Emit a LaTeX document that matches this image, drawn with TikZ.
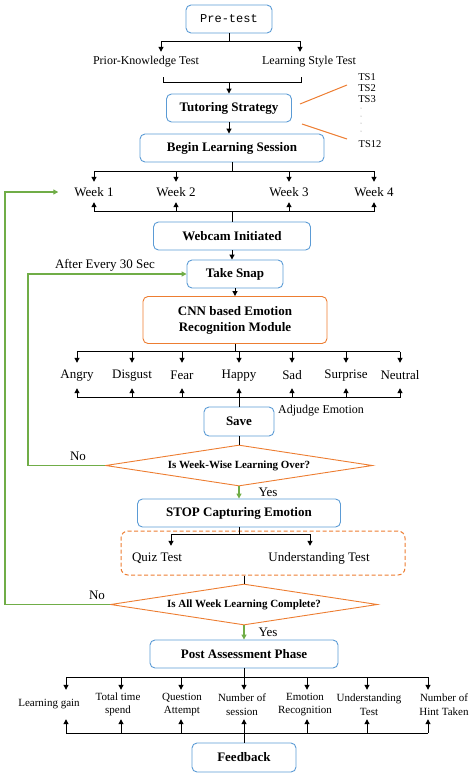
\documentclass[tikz,border=0pt]{standalone}
\usepackage{fontspec}
\setmainfont{Liberation Serif}
\setmonofont{Liberation Mono}
\usetikzlibrary{arrows.meta,shapes.geometric,calc}

\definecolor{boxblue}{RGB}{91,155,213}
\definecolor{flowor}{RGB}{237,125,49}
\definecolor{loopgreen}{RGB}{112,173,71}

\tikzset{
  box/.style={draw=boxblue, line width=0.9pt, rounded corners=5pt, align=center,
    inner sep=0pt, minimum height=28, font=\fontsize{13}{16}\selectfont\bfseries},
  cnnbox/.style={box, draw=flowor},
  decide/.style={diamond, draw=flowor, line width=0.9pt, inner sep=0pt, aspect=6.5,
    minimum width=267, minimum height=41, font=\fontsize{11}{13}\selectfont\bfseries},
  lbl/.style={inner sep=0pt, font=\fontsize{13}{15}\selectfont},
  small/.style={inner sep=0pt, align=center, minimum height=29,
    font=\fontsize{11}{13.5}\selectfont},
  line/.style={line width=1pt},
  arr/.style={line, -{Triangle[length=5pt,width=5pt]}},
  garr/.style={arr, draw=loopgreen, line width=1.2pt},
  tsline/.style={draw=flowor, line width=1pt}
}

\begin{document}
\begin{tikzpicture}[x=1pt,y=-1pt]
  \useasboundingbox (0,0) rectangle (474,777);

  % pre-test part
  \node[box, minimum width=86, font=\fontsize{12}{14}\selectfont\ttfamily] (pre) at (229,19) {Pre-test};
  \node[lbl, minimum height=20, font=\fontsize{12}{14}\selectfont] (pk) at (146,62) {Prior-Knowledge Test};
  \node[lbl, minimum height=20, font=\fontsize{12}{14}\selectfont] (ls) at (309,62) {Learning Style Test};
  \node[box, minimum width=125] (tut) at (229,108) {Tutoring Strategy};
  \node[box, minimum width=184] (begin) at (232,148) {Begin Learning Session};

  \node[lbl, font=\fontsize{10.5}{12}\selectfont] (ts1) at (367,77) {TS1};
  \node[lbl, font=\fontsize{10.5}{12}\selectfont] (ts2) at (367,88) {TS2};
  \node[lbl, font=\fontsize{10.5}{12}\selectfont] (ts3) at (367,99) {TS3};
  \node[lbl, font=\fontsize{10.5}{12}\selectfont] (ts12) at (370,144) {TS12};
  \foreach \y in {108,116,123,131}
    \fill[gray] (361,\y) circle (0.5);

  \coordinate (o1) at (300,104);
  \coordinate (o2) at (347,85);
  \coordinate (o3) at (302,124);
  \coordinate (o4) at (347,139);
  \draw[tsline] (o1) -- (o2);
  \draw[tsline] (o3) -- (o4);

  \draw[line] (pre.south) -- ++(0,8) coordinate (pj);
  \coordinate (k1) at (161,41);
  \coordinate (k2) at (300,41);
  \draw[line] (k1) -- (k2);
  \draw[arr] (k1) -- (k1 |- pk.north);
  \draw[arr] (k2) -- (k2 |- ls.north);
  \coordinate (b1) at (163,77);
  \coordinate (b2) at (301,77);
  \draw[line] (b1) -- ++(0,5) -| (b2);
  \coordinate (bj) at (229,82);
  \draw[arr] (bj) -- (tut.north);
  \draw[arr] (tut.south) -- (tut.south |- begin.north);

  % weeks
  \foreach \n/\x/\t in {w1/94/Week 1, w2/176/Week 2, w3/289/Week 3, w4/374/Week 4}
    \node[lbl, minimum height=20] (\n) at (\x,192) {\t};
  \draw[line] (begin.south) -- ++(0,9) coordinate (wj);
  \draw[line] (w1.north |- wj) -- (w4.north |- wj);
  \foreach \n in {w1,w2,w3,w4}
    \draw[arr] (\n.north |- wj) -- (\n.north);

  \node[box, minimum width=157] (cam) at (232,236) {Webcam Initiated};
  \draw[line] (cam.north) -- ++(0,-10) coordinate (wk);
  \draw[line] (w1.south |- wk) -- (w4.south |- wk);
  \foreach \n in {w1,w2,w3,w4}
    \draw[arr] (\n.south |- wk) -- (\n.south);

  % capturing loop
  \node[box, minimum width=96] (snap) at (235,274) {Take Snap};
  \node[lbl] (every) at (105,265) {After Every 30 Sec};
  \node[cnnbox, minimum width=184, minimum height=47] (cnn) at (235,320) {CNN based Emotion\\Recognition Module};
  \draw[arr] (cam.south) -- (cam.south |- snap.north);
  \draw[arr] (snap.south) -- (snap.south |- cnn.north);

  \foreach \n/\x/\t in {angry/77/Angry, disgust/132/Disgust, fear/182/Fear, happy/239/Happy,
                       sad/292/Sad, surprise/346/Surprise, neutral/400/Neutral}
    \node[lbl, minimum height=25] (\n) at (\x,375.5) {\t};
  \draw[line] (cnn.south) -- ++(0,8) coordinate (ej);
  \draw[line] (angry.north |- ej) -- (neutral.north |- ej);
  \foreach \n in {angry,disgust,fear,happy,sad,surprise,neutral}
    \draw[arr] (\n.north |- ej) -- (\n.north);

  \node[box, minimum width=70, minimum height=29] (save) at (239,421.5) {Save};
  \node[lbl, font=\fontsize{12}{14}\selectfont] (adj) at (321,411) {Adjudge Emotion};
  \draw[line] (save.north) -- ++(0,-9) coordinate (ek);
  \draw[line] (angry.south |- ek) -- (neutral.south |- ek);
  \foreach \n in {angry,disgust,fear,happy,sad,surprise,neutral}
    \draw[arr] (\n.south |- ek) -- (\n.south);

  \node[decide] (d1) at (239,465.5) {Is Week-Wise Learning Over?};
  \draw[line] (save.south) -- (d1.north);
  \node[lbl] (no1) at (78,456) {No};
  \node[lbl] (yes1) at (268,492) {Yes};
  \coordinate (g2) at (28,274);
  \draw[garr] (d1.west) -| (g2) -- (snap.west);

  % end of week
  \node[box, minimum width=203] (stop) at (239,513) {STOP Capturing Emotion};
  \draw[garr] (d1.south) -- (stop.north);
  \node[draw=flowor, line width=1pt, dash pattern=on 4pt off 2.5pt, rounded corners=7pt,
        minimum width=284, minimum height=44, inner sep=0pt] (qbox) at (263,553) {};
  \node[lbl, minimum height=24] (quiz) at (157,558) {Quiz Test};
  \node[lbl, minimum height=24] (und) at (319,558) {Understanding Test};
  \draw[line] (stop.south) -- ++(0,7) coordinate (qj);
  \coordinate (q1) at (171,534);
  \coordinate (q2) at (310,534);
  \draw[line] (q1) -- (q2);
  \draw[arr] (q1) -- (q1 |- quiz.north);
  \draw[arr] (q2) -- (q2 |- und.north);

  \node[decide] (d2) at (244,604.5) {Is All Week Learning Complete?};
  \draw[line] (d2.north |- qbox.south) -- (d2.north);
  \node[lbl] (no2) at (97,595) {No};
  \node[lbl] (yes2) at (268,632) {Yes};
  \coordinate (g1) at (5,192);
  \draw[garr] (d2.west) -| (g1) -- ($(w1.west)+(-16,0)$);

  % post assessment
  \node[box, minimum width=188] (post) at (244,654) {Post Assessment Phase};
  \draw[garr] (d2.south) -- (post.north);
  \node[box, minimum width=104, minimum height=29] (fb) at (244,757.5) {Feedback};

  \foreach \n/\x/\lx/\t in {m1/66/49/Learning gain, m2/121/118/Total time\\spend,
                            m3/181/182/Question\\Attempt, m4/244/242/Number of\\session,
                            m5/307/305/Emotion\\Recognition, m6/367/369/Understanding\\Test,
                            m7/428/444/Number of\\Hint Taken}
  {
    \node[small] (\n) at (\lx,704.5) {\t};
    \coordinate (\n-t) at (\x,677);
    \coordinate (\n-b) at (\x,733);
    \draw[arr] (\n-t) -- (\n-t |- \n.north);
    \draw[arr] (\n-b) -- (\n-b |- \n.south);
  }
  \draw[line] (post.south) -- (m4-t);
  \draw[line] (m1-t) -- (m7-t);
  \draw[line] (m1-b) -- (m7-b);
  \draw[line] (fb.north) -- (m4-b);
\end{tikzpicture}
\end{document}
